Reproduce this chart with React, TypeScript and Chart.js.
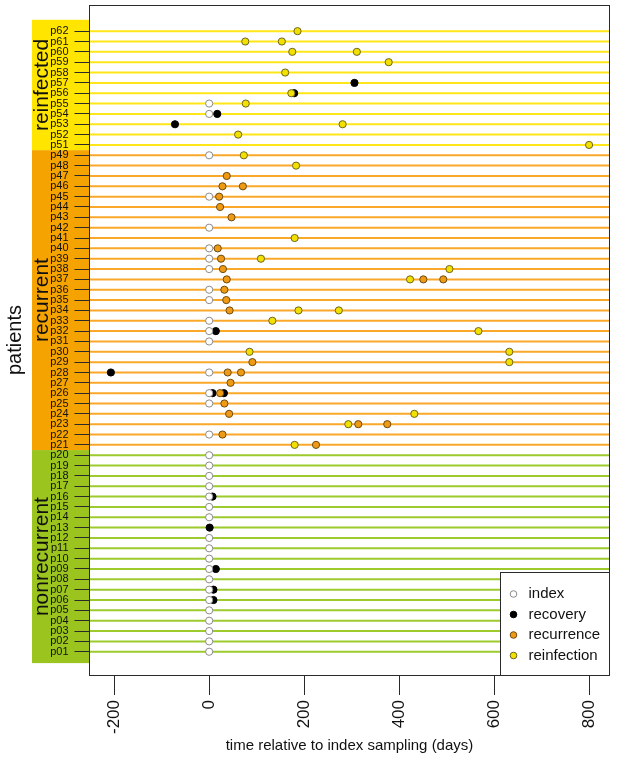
import { useEffect, useRef } from "react";
import { Chart, registerables } from "chart.js";

Chart.register(...registerables);

// ---------------- data ----------------
const patientIds = [
  "p01", "p02", "p03", "p04", "p05", "p06", "p07", "p08", "p09", "p10",
  "p11", "p12", "p13", "p14", "p15", "p16", "p17", "p18", "p19", "p20",
  "p21", "p22", "p23", "p24", "p25", "p26", "p27", "p28", "p29", "p30",
  "p31", "p32", "p33", "p34", "p35", "p36", "p37", "p38", "p39", "p40",
  "p41", "p42", "p43", "p44", "p45", "p46", "p47", "p48", "p49",
  "p51", "p52", "p53", "p54", "p55", "p56", "p57", "p58", "p59", "p60", "p61", "p62",
];

const groupLabels = ["nonrecurrent", "recurrent", "reinfected"];
const groupSizes = [20, 29, 12];

const eventLabels = ["index", "recovery", "recurrence", "reinfection"];

const indexEvents: [string, number][] = [
  ["p01", 0], ["p02", 0], ["p03", 0], ["p04", 0], ["p05", 0], ["p06", 0], ["p07", 0],
  ["p08", 0], ["p09", 0], ["p10", 0], ["p11", 0], ["p12", 0], ["p14", 0], ["p15", 0],
  ["p16", 0], ["p17", 0], ["p18", 0], ["p19", 0], ["p20", 0],
  ["p22", 0], ["p25", 0], ["p26", 0], ["p28", 0], ["p31", 0], ["p32", 0], ["p33", 0],
  ["p35", 0], ["p36", 0], ["p38", 0], ["p39", 0], ["p40", 0], ["p42", 0], ["p45", 0],
  ["p49", 0], ["p54", 0], ["p55", 0],
];

const recoveryEvents: [string, number][] = [
  ["p06", 9], ["p07", 9], ["p09", 14], ["p13", 1], ["p16", 7], ["p26", 7], ["p26", 31],
  ["p28", -207], ["p32", 14], ["p53", -72], ["p54", 17], ["p56", 179], ["p57", 306],
];

const recurrenceEvents: [string, number][] = [
  ["p21", 225], ["p22", 28], ["p23", 314], ["p23", 375], ["p24", 42], ["p25", 32],
  ["p26", 23], ["p27", 45], ["p28", 39], ["p28", 67], ["p29", 91], ["p34", 43],
  ["p35", 36], ["p36", 32], ["p37", 37], ["p37", 451], ["p37", 493], ["p38", 29],
  ["p39", 25], ["p40", 18], ["p43", 47], ["p44", 23], ["p45", 21], ["p46", 28],
  ["p46", 71], ["p47", 37],
];

const reinfectionEvents: [string, number][] = [
  ["p21", 180], ["p23", 293], ["p24", 432], ["p29", 632], ["p30", 85], ["p30", 632],
  ["p32", 567], ["p33", 133], ["p34", 188], ["p34", 273], ["p37", 423], ["p38", 506],
  ["p39", 109], ["p41", 180], ["p48", 183], ["p49", 73], ["p51", 800], ["p52", 61],
  ["p53", 281], ["p55", 77], ["p56", 173], ["p58", 160], ["p59", 378], ["p60", 175],
  ["p60", 311], ["p61", 76], ["p61", 153], ["p62", 186],
];

const xTicks = [-200, 0, 200, 400, 600, 800];
const X_MIN = -252;
const X_MAX = 843;
const Y_MIN = -1.25;
const Y_MAX = 63.53;

// ---------------- style ----------------
const W = 617;
const H = 764;
const FONT = "'Liberation Sans', Arial, Helvetica, sans-serif";
const bandColors = ["#9BC41F", "#F5A300", "#FFE500"];
const lineColors = ["#9DCA2C", "#FAA82A", "#FFE619"];
const pointFill = ["#FFFFFF", "#000000", "#EE9A14", "#F2E000"];
const pointBorder = ["#8A8A8A", "#000000", "#6E4A12", "#6E6520"];
const BAND_X = 32;
const BAND_PAD = 1.1;
const BAND_TEXT_X = 48;
const BAND_FONT = 21;
const AXIS_COLOR = "#2a2a2a";
const TEXT_COLOR = "#111111";

const rowOf = (id: string) => patientIds.indexOf(id) + 1;
const groupOfRow = (row: number) => {
  let acc = 0;
  for (let g = 0; g < groupSizes.length; g++) {
    acc += groupSizes[g];
    if (row <= acc) return g;
  }
  return groupSizes.length - 1;
};

const bandsPlugin = {
  id: "bands",
  beforeDraw(chart: any) {
    const { ctx, chartArea } = chart;
    const y = chart.scales.y;
    let start = 1;
    groupSizes.forEach((n, g) => {
      const end = start + n - 1;
      const lo = g === 0 ? start - BAND_PAD : start - 0.5;
      const hi = g === groupSizes.length - 1 ? end + BAND_PAD : end + 0.5;
      const yTop = y.getPixelForValue(hi);
      const yBot = y.getPixelForValue(lo);
      ctx.save();
      ctx.fillStyle = bandColors[g];
      ctx.fillRect(BAND_X, yTop, chartArea.left - BAND_X, yBot - yTop);
      ctx.translate(BAND_TEXT_X, (yTop + yBot) / 2);
      ctx.rotate(-Math.PI / 2);
      ctx.font = `${BAND_FONT}px ${FONT}`;
      ctx.fillStyle = TEXT_COLOR;
      ctx.textAlign = "center";
      ctx.textBaseline = "alphabetic";
      ctx.fillText(groupLabels[g], 0, 0);
      ctx.restore();
      start = end + 1;
    });
  },
};

const frameLegendPlugin = {
  id: "frameLegend",
  afterDraw(chart: any) {
    const { ctx, chartArea } = chart;
    const l = Math.floor(chartArea.left) + 0.5;
    const t = Math.floor(chartArea.top) + 0.5;
    const r = Math.floor(chartArea.right) + 0.5;
    const b = Math.floor(chartArea.bottom) + 0.5;
    ctx.save();
    const lw = 109;
    const lh = 103;
    const lx = r - lw;
    const ly = b - lh;
    ctx.fillStyle = "#FFFFFF";
    ctx.fillRect(lx, ly, lw, lh);
    ctx.strokeStyle = AXIS_COLOR;
    ctx.lineWidth = 1;
    ctx.strokeRect(lx, ly, lw, lh);
    ctx.font = `15px ${FONT}`;
    ctx.textBaseline = "middle";
    ctx.textAlign = "left";
    eventLabels.forEach((lab, i) => {
      const cy = ly + 21.5 + i * 20.5;
      ctx.beginPath();
      ctx.arc(lx + 13, cy, 3.3, 0, Math.PI * 2);
      ctx.fillStyle = pointFill[i];
      ctx.fill();
      ctx.strokeStyle = pointBorder[i];
      ctx.lineWidth = 1;
      ctx.stroke();
      ctx.fillStyle = TEXT_COLOR;
      ctx.fillText(lab, lx + 28, cy);
    });
    ctx.strokeStyle = AXIS_COLOR;
    ctx.lineWidth = 1;
    ctx.strokeRect(l, t, r - l, b - t);
    ctx.restore();
  },
};

export default function App() {
  const ref = useRef<HTMLCanvasElement>(null);

  useEffect(() => {
    const lineDatasets = patientIds.map((id, i) => {
      const row = i + 1;
      return {
        type: "line" as const,
        label: id,
        data: [
          { x: X_MIN, y: row },
          { x: X_MAX, y: row },
        ],
        borderColor: lineColors[groupOfRow(row)],
        borderWidth: 2,
        pointRadius: 0,
        fill: false,
        order: 10,
      };
    });

    const eventSets = [indexEvents, recoveryEvents, recurrenceEvents, reinfectionEvents];
    const pointOrders = [0, 3, 2, 1];
    const pointDatasets = eventSets.map((evs, k) => ({
      type: "scatter" as const,
      label: eventLabels[k],
      data: evs.map(([id, d]) => ({ x: d, y: rowOf(id) })),
      backgroundColor: pointFill[k],
      borderColor: pointBorder[k],
      borderWidth: 1,
      pointRadius: 3.6,
      order: pointOrders[k],
    }));

    const chart = new Chart(ref.current as HTMLCanvasElement, {
      type: "scatter",
      data: { datasets: [...pointDatasets, ...lineDatasets] as any },
      options: {
        responsive: false,
        animation: false,
        events: [],
        layout: { padding: { left: 0, right: 7.5, top: 4.5, bottom: 0 } },
        plugins: { legend: { display: false }, tooltip: { enabled: false } },
        scales: {
          x: {
            type: "linear",
            min: X_MIN,
            max: X_MAX,
            afterBuildTicks: (s: any) => {
              s.ticks = xTicks.map((v) => ({ value: v }));
            },
            afterFit: (s: any) => {
              s.height = 89;
              s.paddingLeft = 0;
              s.paddingRight = 0;
            },
            grid: { drawOnChartArea: false, drawTicks: true, tickLength: 20, color: AXIS_COLOR, lineWidth: 1 },
            border: { display: false },
            ticks: {
              autoSkip: false,
              minRotation: 90,
              maxRotation: 90,
              padding: 5,
              color: TEXT_COLOR,
              font: { family: FONT, size: 17 },
              callback: (v: any) => String(v),
            },
            title: {
              display: true,
              text: "time relative to index sampling (days)",
              color: TEXT_COLOR,
              font: { family: FONT, size: 15 },
              padding: { top: 0, bottom: 9 },
            },
          },
          y: {
            type: "linear",
            min: Y_MIN,
            max: Y_MAX,
            afterBuildTicks: (s: any) => {
              s.ticks = patientIds.map((_, i) => ({ value: i + 1 }));
            },
            afterFit: (s: any) => {
              s.width = 89.5;
              s.paddingTop = 0;
              s.paddingBottom = 0;
            },
            grid: { drawOnChartArea: false, drawTicks: true, tickLength: 15, color: AXIS_COLOR, lineWidth: 1 },
            border: { display: false },
            ticks: {
              autoSkip: false,
              padding: 6,
              color: TEXT_COLOR,
              font: { family: FONT, size: 11 },
              callback: (v: any) => patientIds[Math.round(v) - 1] ?? "",
            },
            title: {
              display: true,
              text: "patients",
              color: TEXT_COLOR,
              font: { family: FONT, size: 20 },
              padding: { top: 3, bottom: 0 },
            },
          },
        },
      },
      plugins: [bandsPlugin, frameLegendPlugin],
    });
    return () => chart.destroy();
  }, []);

  return (
    <div style={{ position: "fixed", left: 0, top: 0, width: W, height: H, background: "#ffffff" }}>
      <canvas ref={ref} width={W} height={H} style={{ width: W, height: H, display: "block" }} />
    </div>
  );
}
